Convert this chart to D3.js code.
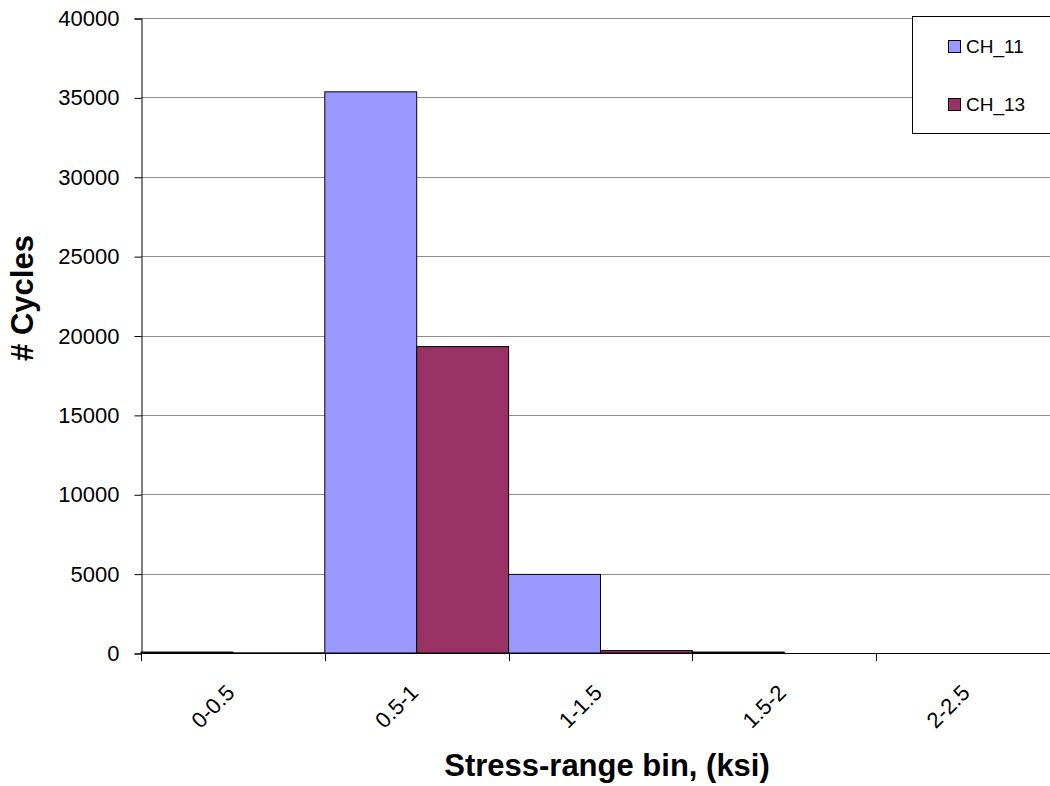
<!DOCTYPE html>
<html>
<head>
<meta charset="utf-8">
<script src="https://cdn.jsdelivr.net/npm/d3@7"></script>
<style>
  body { margin: 0; background: #fff; }
  svg { display: block; font-family: "Liberation Sans", Arial, sans-serif; }
</style>
</head>
<body>
<svg id="chart" width="1050" height="786"></svg>
<script>
// *** Data ***
var bins = ["0-0.5", "0.5-1", "1-1.5", "1.5-2", "2-2.5"];
var seriesNames = ["CH_11", "CH_13"];
var ch11 = [60, 35350, 4950, 60, 0];
var ch13 = [10, 19300, 150, 0, 0];
var yTicks = [0, 5000, 10000, 15000, 20000, 25000, 30000, 35000, 40000];
var colors = ["#9999ff", "#993366"];

// *** Chart ***
var svg = d3.select("#chart");

// plot area (right edge runs past the picture, like the original)
var plotLeft = 141, plotRight = 1060, plotTop = 18, plotBottom = 653;

var x = d3.scaleBand().domain(bins).range([plotLeft, plotRight]).padding(0);
var xs = d3.scaleBand().domain(seriesNames).range([0, x.bandwidth()]).padding(0);
var y = d3.scaleLinear().domain([0, 40000]).range([plotBottom, plotTop]);

// gridlines
svg.append("g").selectAll("line")
    .data(yTicks.slice(1))
    .enter().append("line")
    .attr("x1", plotLeft).attr("x2", plotRight)
    .attr("y1", d => Math.round(y(d)) + 0.5).attr("y2", d => Math.round(y(d)) + 0.5)
    .attr("stroke", "#8c8c8c")
    .attr("stroke-width", 1);

// bars
var rows = bins.map((b, i) => ({bin: b, values: [ch11[i], ch13[i]]}));
var groups = svg.append("g").selectAll("g")
    .data(rows)
    .enter().append("g")
    .attr("transform", d => "translate(" + x(d.bin) + ",0)");

groups.selectAll("rect")
    .data(d => d.values.map((v, j) => ({name: seriesNames[j], value: v, j: j})))
    .enter().append("rect")
    .filter(d => d.value > 0)
    .attr("x", d => xs(d.name))
    .attr("width", xs.bandwidth())
    .attr("y", d => y(d.value))
    .attr("height", d => y(0) - y(d.value))
    .attr("fill", d => colors[d.j])
    .attr("stroke", "#000")
    .attr("stroke-width", 1);

// y axis
var yAxis = d3.axisLeft(y).tickValues(yTicks).tickSize(7).tickPadding(15).tickFormat(d3.format("d"));
var yAxisG = svg.append("g")
    .attr("transform", "translate(" + (plotLeft + 0.5) + ",0.5)")
    .call(yAxis);
yAxisG.select(".domain").attr("stroke", "#000");
yAxisG.selectAll("line").attr("stroke", "#000");
yAxisG.selectAll("text").attr("font-size", 22).attr("fill", "#000")
    .attr("font-family", "Liberation Sans, Arial, sans-serif");

// x axis (ticks at category boundaries)
svg.append("line")
    .attr("x1", plotLeft).attr("x2", plotRight)
    .attr("y1", plotBottom + 0.5).attr("y2", plotBottom + 0.5)
    .attr("stroke", "#000");
svg.append("g").selectAll("line")
    .data(bins.concat(["end"]))
    .enter().append("line")
    .attr("x1", (d, i) => Math.round(plotLeft + i * x.bandwidth()) + 0.5)
    .attr("x2", (d, i) => Math.round(plotLeft + i * x.bandwidth()) + 0.5)
    .attr("y1", plotBottom).attr("y2", plotBottom + 8)
    .attr("stroke", "#000");

svg.append("g").selectAll("text")
    .data(bins)
    .enter().append("text")
    .attr("transform", d => "translate(" + (x(d) + x.bandwidth() / 2 + 3) + "," + (plotBottom + 41) + ") rotate(-45)")
    .attr("text-anchor", "end")
    .attr("font-size", 22)
    .text(d => d);

// axis titles
svg.append("text")
    .attr("x", 607).attr("y", 776)
    .attr("text-anchor", "middle")
    .attr("font-size", 31)
    .attr("font-weight", "bold")
    .text("Stress-range bin, (ksi)");

svg.append("text")
    .attr("transform", "translate(33,298) rotate(-90)")
    .attr("text-anchor", "middle")
    .attr("font-size", 31)
    .attr("font-weight", "bold")
    .text("# Cycles");

// legend
var legend = svg.append("g");
legend.append("rect")
    .attr("x", 912.5).attr("y", 16.5)
    .attr("width", 200).attr("height", 117)
    .attr("fill", "#fff")
    .attr("stroke", "#000");
var items = legend.selectAll("g.item")
    .data(seriesNames)
    .enter().append("g")
    .attr("class", "item")
    .attr("transform", (d, i) => "translate(948.5," + (40.5 + i * 58) + ")");
items.append("rect")
    .attr("width", 12).attr("height", 12)
    .attr("fill", (d, i) => colors[i])
    .attr("stroke", "#000");
items.append("text")
    .attr("x", 17.5).attr("y", 12.5)
    .attr("font-size", 19)
    .text(d => d);
</script>
</body>
</html>
